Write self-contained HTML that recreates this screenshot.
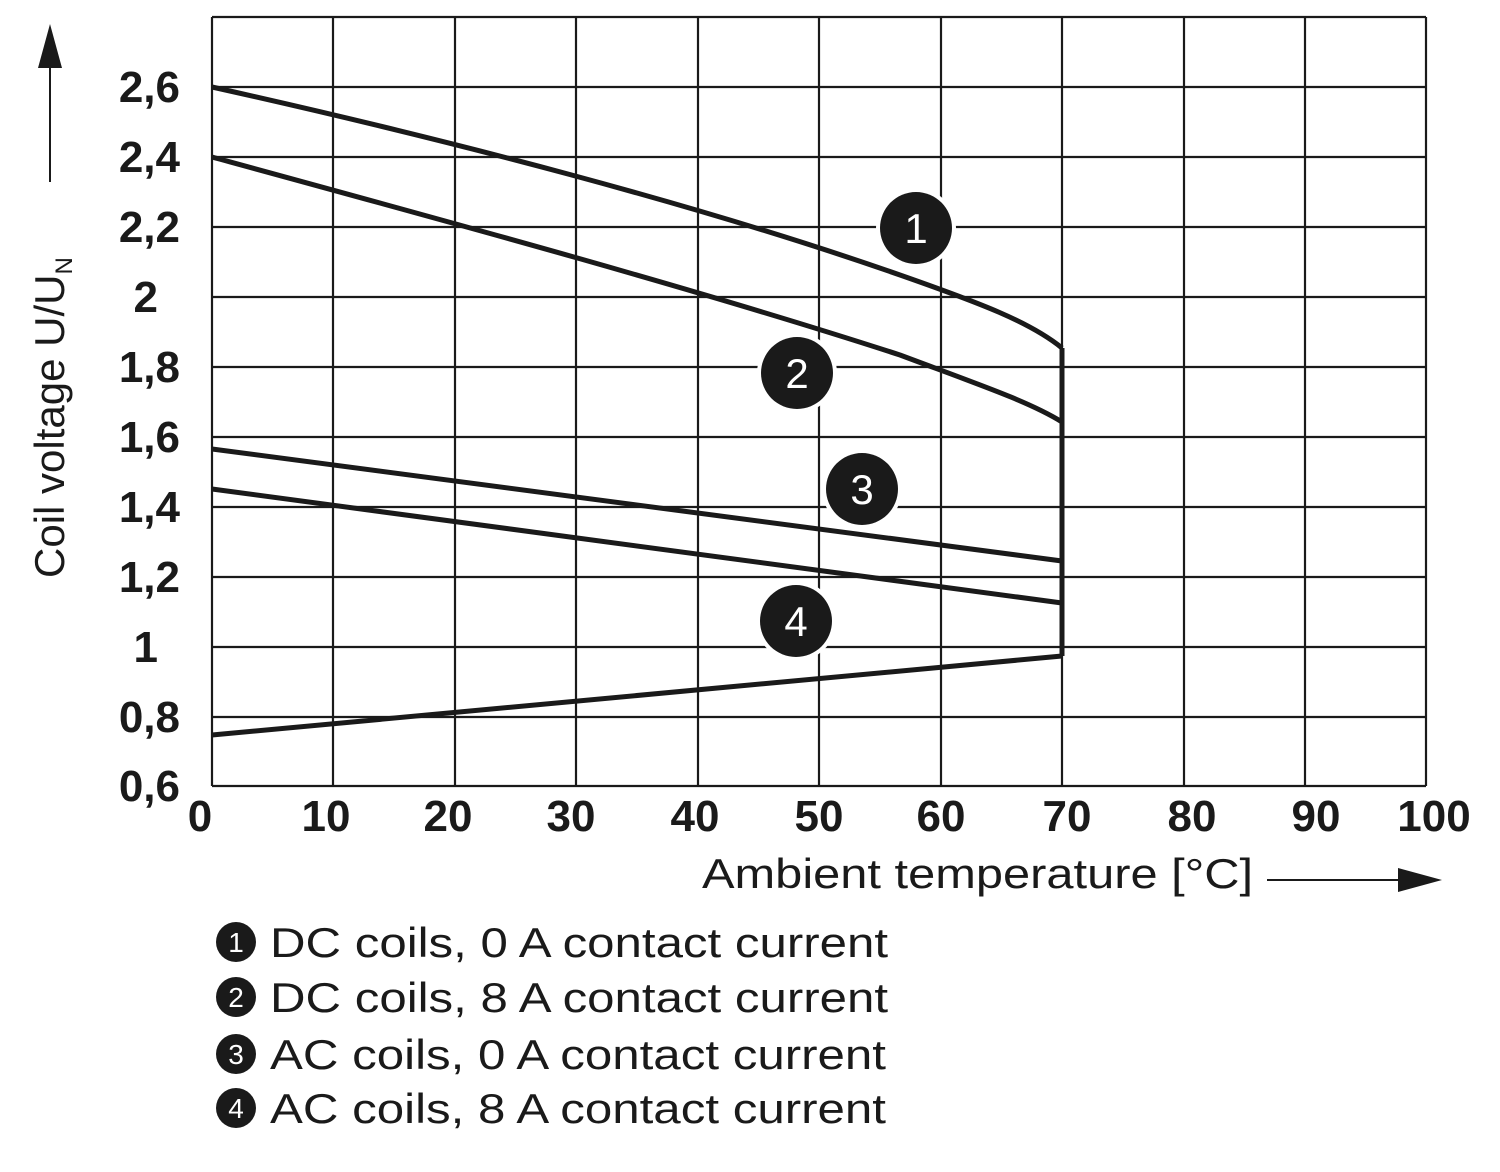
<!DOCTYPE html>
<html><head><meta charset="utf-8"><style>
html,body{margin:0;padding:0;background:#fff;}
svg{display:block;}
text{font-family:"Liberation Sans",Arial,sans-serif;fill:#1a1a1a;}
</style></head><body>
<svg width="1500" height="1172" viewBox="0 0 1500 1172" xmlns="http://www.w3.org/2000/svg">
<g stroke="#1a1a1a" stroke-width="2.2" fill="none">
<line x1="212" y1="17" x2="1426" y2="17"/>
<line x1="212" y1="87" x2="1426" y2="87"/>
<line x1="212" y1="157" x2="1426" y2="157"/>
<line x1="212" y1="227" x2="1426" y2="227"/>
<line x1="212" y1="297" x2="1426" y2="297"/>
<line x1="212" y1="367" x2="1426" y2="367"/>
<line x1="212" y1="437" x2="1426" y2="437"/>
<line x1="212" y1="507" x2="1426" y2="507"/>
<line x1="212" y1="577" x2="1426" y2="577"/>
<line x1="212" y1="647" x2="1426" y2="647"/>
<line x1="212" y1="717" x2="1426" y2="717"/>
<line x1="212" y1="786" x2="1426" y2="786"/>
<line x1="212" y1="17" x2="212" y2="786"/>
<line x1="333" y1="17" x2="333" y2="786"/>
<line x1="455" y1="17" x2="455" y2="786"/>
<line x1="576" y1="17" x2="576" y2="786"/>
<line x1="698" y1="17" x2="698" y2="786"/>
<line x1="819" y1="17" x2="819" y2="786"/>
<line x1="941" y1="17" x2="941" y2="786"/>
<line x1="1062" y1="17" x2="1062" y2="786"/>
<line x1="1184" y1="17" x2="1184" y2="786"/>
<line x1="1305" y1="17" x2="1305" y2="786"/>
<line x1="1426" y1="17" x2="1426" y2="786"/>
</g>
<g stroke="#1a1a1a" stroke-width="5" fill="none" stroke-linejoin="round">
<path d="M212,87 C450,140 700,205 900,275 C980,303 1030,322 1062,348"/>
<path d="M212,157 C450,222 700,290 900,355 C980,385 1030,402 1062,422"/>
<path d="M212,449 L1062,561"/>
<path d="M212,489 L1062,603"/>
<path d="M212,735 L1062,656"/>
<path d="M1062,348 L1062,656"/>
</g>
<g>
<circle cx="916" cy="228" r="40" fill="#fff"/><circle cx="916" cy="228" r="36" fill="#1a1a1a"/>
<text x="916" y="243" font-size="42" text-anchor="middle" style="fill:#fff">1</text>
<circle cx="797" cy="373" r="40" fill="#fff"/><circle cx="797" cy="373" r="36" fill="#1a1a1a"/>
<text x="797" y="388" font-size="42" text-anchor="middle" style="fill:#fff">2</text>
<circle cx="862" cy="489" r="40" fill="#fff"/><circle cx="862" cy="489" r="36" fill="#1a1a1a"/>
<text x="862" y="504" font-size="42" text-anchor="middle" style="fill:#fff">3</text>
<circle cx="796" cy="621" r="40" fill="#fff"/><circle cx="796" cy="621" r="36" fill="#1a1a1a"/>
<text x="796" y="636" font-size="42" text-anchor="middle" style="fill:#fff">4</text>
</g>
<g font-size="44" font-weight="bold" text-anchor="end">
<text x="180" y="102">2,6</text>
<text x="180" y="172">2,4</text>
<text x="180" y="242">2,2</text>
<text x="158" y="312">2</text>
<text x="180" y="382">1,8</text>
<text x="180" y="452">1,6</text>
<text x="180" y="522">1,4</text>
<text x="180" y="592">1,2</text>
<text x="158" y="662">1</text>
<text x="180" y="732">0,8</text>
<text x="180" y="801">0,6</text>
</g>
<g font-size="44" font-weight="bold" text-anchor="middle">
<text x="200" y="831">0</text>
<text x="326" y="831">10</text>
<text x="448" y="831">20</text>
<text x="571" y="831">30</text>
<text x="695" y="831">40</text>
<text x="819" y="831">50</text>
<text x="941" y="831">60</text>
<text x="1067" y="831">70</text>
<text x="1192" y="831">80</text>
<text x="1316" y="831">90</text>
<text x="1434" y="831">100</text>
</g>
<text x="702" y="888" font-size="42" textLength="551" lengthAdjust="spacingAndGlyphs">Ambient temperature [°C]</text>
<line x1="1267" y1="880" x2="1410" y2="880" stroke="#1a1a1a" stroke-width="2"/>
<polygon points="1442,880 1398,868 1398,892" fill="#1a1a1a"/>
<g transform="translate(64,578) rotate(-90)">
<text x="0" y="0" font-size="42">Coil voltage U/U<tspan font-size="24" dy="8">N</tspan></text>
</g>
<line x1="50" y1="182" x2="50" y2="60" stroke="#1a1a1a" stroke-width="2"/>
<polygon points="50,24 38,68 62,68" fill="#1a1a1a"/>
<g font-size="42">
<circle cx="236" cy="942" r="20" fill="#1a1a1a"/><text x="236" y="952" font-size="28" text-anchor="middle" style="fill:#fff">1</text>
<text x="270" y="957" textLength="618" lengthAdjust="spacingAndGlyphs">DC coils, 0 A contact current</text>
<circle cx="236" cy="997" r="20" fill="#1a1a1a"/><text x="236" y="1007" font-size="28" text-anchor="middle" style="fill:#fff">2</text>
<text x="270" y="1012" textLength="618" lengthAdjust="spacingAndGlyphs">DC coils, 8 A contact current</text>
<circle cx="236" cy="1054" r="20" fill="#1a1a1a"/><text x="236" y="1064" font-size="28" text-anchor="middle" style="fill:#fff">3</text>
<text x="270" y="1069" textLength="616" lengthAdjust="spacingAndGlyphs">AC coils, 0 A contact current</text>
<circle cx="236" cy="1108" r="20" fill="#1a1a1a"/><text x="236" y="1118" font-size="28" text-anchor="middle" style="fill:#fff">4</text>
<text x="270" y="1123" textLength="616" lengthAdjust="spacingAndGlyphs">AC coils, 8 A contact current</text>
</g>
</svg>
</body></html>
